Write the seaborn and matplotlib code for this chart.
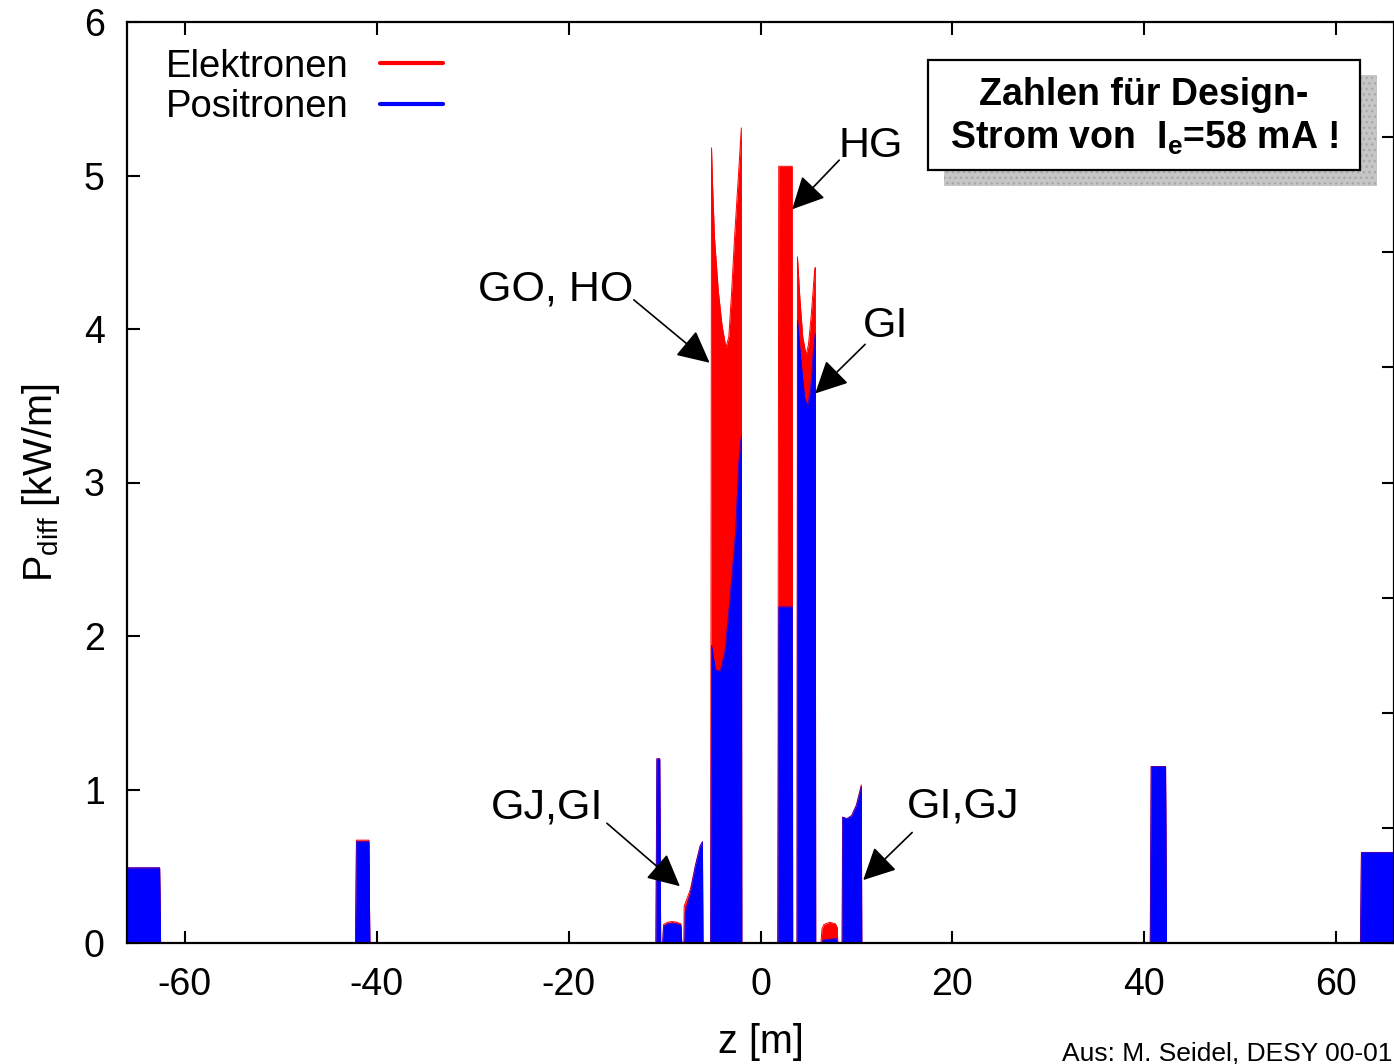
import matplotlib
matplotlib.use("Agg")
import matplotlib.pyplot as plt
from matplotlib.lines import Line2D
from matplotlib.patches import Rectangle
import seaborn as sns
import numpy as np

# ---------------- data ----------------
# Electrons (red): z [m], P_diff [kW/m]
z_elek = [-66.0, -62.6, -62.5,
          -42.2, -42.1, -40.8, -40.7,
          -10.9, -10.8, -10.5, -10.4,
          -10.2, -10.1, -9.7, -9.2, -8.7, -8.3, -8.2,
          -8.0, -7.95, -7.3, -6.8, -6.3, -6.05, -6.0,
          -5.2, -5.1, -5.0, -4.8, -4.4, -4.0, -3.6, -3.3, -3.0, -2.7, -2.4, -2.15, -2.0, -1.95,
          1.8, 1.9, 3.3, 3.35,
          3.8, 3.85, 4.1, 4.4, 4.75, 5.0, 5.3, 5.6, 5.7, 5.75,
          6.3, 6.4, 6.6, 7.2, 7.8, 8.0, 8.05,
          8.5, 8.55, 9.0, 9.5, 10.0, 10.5, 10.55,
          40.6, 40.7, 42.2, 42.3,
          62.5, 62.6, 66.0]
p_elek = [0.49, 0.49, 0.0,
          0.0, 0.67, 0.67, 0.0,
          0.0, 1.2, 1.2, 0.0,
          0.0, 0.12, 0.135, 0.14, 0.135, 0.125, 0.0,
          0.0, 0.24, 0.35, 0.5, 0.63, 0.66, 0.0,
          0.0, 5.18, 4.95, 4.6, 4.25, 4.02, 3.88, 3.95, 4.25, 4.6, 4.9, 5.15, 5.31, 0.0,
          0.0, 5.06, 5.06, 0.0,
          0.0, 4.47, 4.2, 3.95, 3.83, 3.9, 4.1, 4.35, 4.4, 0.0,
          0.0, 0.09, 0.12, 0.135, 0.125, 0.1, 0.0,
          0.0, 0.82, 0.81, 0.83, 0.9, 1.03, 0.0,
          0.0, 1.15, 1.15, 0.0,
          0.0, 0.59, 0.59]

# Positrons (blue)
z_posi = [-66.0, -62.6, -62.5,
          -42.2, -42.1, -40.8, -40.7,
          -10.9, -10.8, -10.5, -10.4,
          -10.2, -10.1, -9.7, -9.2, -8.7, -8.3, -8.2,
          -7.9, -7.85, -7.3, -6.8, -6.3, -6.05, -6.0,
          -5.2, -5.1, -4.7, -4.2, -3.7, -3.2, -2.6, -2.3, -2.1, -2.0, -1.95,
          1.8, 1.9, 3.3, 3.35,
          3.8, 3.85, 4.2, 4.6, 4.9, 5.2, 5.5, 5.7, 5.75,
          6.35, 6.5, 7.9, 8.0,
          8.5, 8.55, 9.0, 9.5, 10.0, 10.5, 10.55,
          40.6, 40.7, 42.2, 42.3,
          62.5, 62.6, 66.0]
p_posi = [0.49, 0.49, 0.0,
          0.0, 0.66, 0.66, 0.0,
          0.0, 1.2, 1.2, 0.0,
          0.0, 0.11, 0.125, 0.13, 0.125, 0.115, 0.0,
          0.0, 0.2, 0.33, 0.5, 0.63, 0.66, 0.0,
          0.0, 1.94, 1.78, 1.77, 1.9, 2.23, 2.67, 3.1, 3.25, 3.3, 0.0,
          0.0, 2.19, 2.19, 0.0,
          0.0, 4.06, 3.8, 3.55, 3.5, 3.6, 3.85, 3.97, 0.0,
          0.0, 0.02, 0.03, 0.0,
          0.0, 0.82, 0.81, 0.83, 0.9, 1.02, 0.0,
          0.0, 1.15, 1.15, 0.0,
          0.0, 0.59, 0.59]

legend_labels = ["Elektronen", "Positronen"]
x_ticks = [-60, -40, -20, 0, 20, 40, 60]
y_ticks = [0, 1, 2, 3, 4, 5, 6]
right_ticks = [0, 1, 2, 3, 4, 5, 6, 7, 8]

# annotations: label, text position, arrow tail, arrow head (data coords)
annot_labels = ["HG", "GO, HO", "GI", "GJ,GI", "GI,GJ"]
annot_text_xy = [(11.5, 5.19), (-21.3, 4.26), (13.0, 4.02), (-22.2, 0.88), (21.1, 0.89)]
annot_tail_xy = [(8.2, 5.10), (-13.2, 4.19), (10.9, 3.90), (-16.0, 0.78), (15.8, 0.72)]
annot_head_xy = [(3.3, 4.78), (-5.3, 3.78), (5.7, 3.58), (-8.4, 0.37), (10.7, 0.41)]

# ---------------- styling ----------------
sns.set_theme(style="white")
plt.rcParams["font.family"] = ["Liberation Sans", "DejaVu Sans"]
plt.rcParams["mathtext.default"] = "regular"
plt.rcParams["axes.unicode_minus"] = False
for k in ["text.color", "axes.labelcolor", "xtick.color", "ytick.color", "axes.edgecolor"]:
    plt.rcParams[k] = "black"

W, H = 1394, 1064
fig = plt.figure(figsize=(W / 100, H / 100), dpi=100)
ax = fig.add_axes([127 / W, 121 / H, 1267 / W, 921 / H])

red = "#ff0000"
blue = "#0000ff"

ax.fill_between(z_elek, p_elek, 0, color=red, lw=0, zorder=1)
sns.lineplot(x=z_elek, y=p_elek, sort=False, estimator=None, color=red, lw=0.7, ax=ax, zorder=1.1)
ax.fill_between(z_posi, p_posi, 0, color=blue, lw=0, zorder=1.2)
sns.lineplot(x=z_posi, y=p_posi, sort=False, estimator=None, color=blue, lw=0.5, ax=ax, zorder=1.3)

ax.set_xlim(-66, 66)
ax.set_ylim(0, 6)
ax.set_xticks(x_ticks)
ax.set_yticks(y_ticks)
ax.tick_params(axis="both", direction="in", length=9, width=1.5, labelsize=27,
               color="black", labelcolor="black")
ax.tick_params(axis="x", top=True, bottom=True, pad=17)
ax.tick_params(axis="y", left=True, right=False, pad=16)
for s in ax.spines.values():
    s.set_color("black")
    s.set_linewidth(1.6)
    s.set_zorder(5)

ax2 = ax.twinx()
ax2.set_ylim(0, 8)
ax2.set_yticks(right_ticks)
ax2.set_yticklabels([])
ax2.tick_params(axis="y", direction="in", length=9, width=1.5, color="black", right=True)
ax2.grid(False)
ax.grid(False)
for s in ax2.spines.values():
    s.set_visible(False)

ax.set_xlabel("z [m]", fontsize=28.5, labelpad=15, color="black")
ax.set_ylabel("P$_{diff}$ [kW/m]", fontsize=28.5, labelpad=16, color="black")

handles = [Line2D([0], [0], color=red, lw=3), Line2D([0], [0], color=blue, lw=3)]
leg = ax.legend(handles, legend_labels, markerfirst=False, frameon=False, loc="upper left",
                bbox_to_anchor=(0.031, 0.971), handlelength=1.65, handletextpad=0.8,
                labelspacing=0.12, fontsize=27.5, borderpad=0, borderaxespad=0)
for t in leg.get_texts():
    t.set_color("black")

for lab, txy, tail, head in zip(annot_labels, annot_text_xy, annot_tail_xy, annot_head_xy):
    ax.text(txy[0], txy[1], lab, fontsize=31, ha="center", va="center", color="black", zorder=6)
    ax.annotate("", xy=head, xytext=tail,
                arrowprops=dict(arrowstyle="-|>,head_length=0.8,head_width=0.4", mutation_scale=25,
                                lw=1.2, color="black", shrinkA=0, shrinkB=0), zorder=6)

# text box with shadow (figure pixel coordinates)
def fig_rect(x0, y0, x1, y1, **kw):
    return Rectangle((x0 / W, 1 - y1 / H), (x1 - x0) / W, (y1 - y0) / H,
                     transform=fig.transFigure, figure=fig, **kw)

fig.patches.append(fig_rect(944, 75, 1377, 186, facecolor="#c6c6c6", edgecolor="#a8a8a8",
                            hatch="...", lw=0, zorder=7))
fig.patches.append(fig_rect(928, 60, 1360, 170, facecolor="white", edgecolor="black",
                            lw=1.6, zorder=8))
fig.text(1144 / W, 1 - 117 / H, "Zahlen für Design-\nStrom von  I$_e$=58 mA !",
         fontsize=27, fontweight="bold", ha="center", va="center", linespacing=1.25,
         color="black", zorder=9)

fig.text(1062 / W, 1 - 1060 / H, "Aus: M. Seidel, DESY 00-01", fontsize=19,
         ha="left", va="baseline", color="black")

fig.savefig("out.png", dpi=100)
